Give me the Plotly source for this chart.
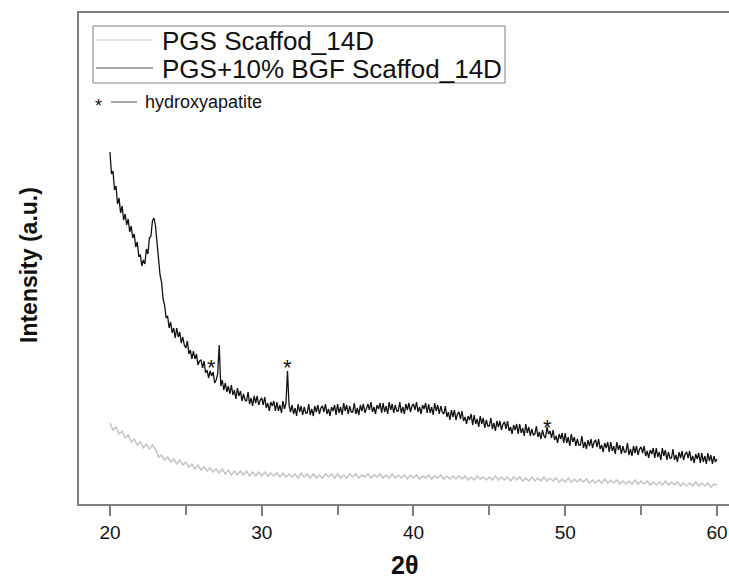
import numpy as np
import plotly.graph_objects as go

# 2-theta grids (degrees)
two_theta_bgf = np.round(np.arange(20.0, 60.0001, 0.1), 2)
two_theta_pgs = np.round(np.arange(20.0, 60.0001, 0.2), 2)

# PGS+10% BGF Scaffod_14D intensity (a.u.), one row per degree (0.1 deg steps)
intensity_bgf = [
    352, 330, 333, 314, 318, 300, 306, 291, 298, 284,   # 20
    290, 279, 285, 272, 278, 266, 270, 257, 262, 248,   # 21
    249, 238, 244, 240, 255, 250, 266, 268, 283, 286,   # 22
    278, 262, 250, 229, 222, 205, 199, 186, 188, 176,   # 23
    182, 171, 176, 166, 176, 167, 172, 161, 167, 159,   # 24
    156, 163, 150, 154, 145, 153, 145, 150, 139, 143,   # 25
    144, 136, 143, 131, 134, 126, 133, 128, 132, 121,   # 26
    124, 130, 159, 118, 124, 114, 121, 112, 118, 110,   # 27
    119, 109, 114, 105, 116, 108, 113, 103, 110, 104,   # 28
    103, 112, 100, 106, 98, 108, 101, 108, 99, 104,     # 29
    106, 99, 107, 96, 101, 93, 102, 98, 103, 93,        # 30
    102, 93, 99, 91, 103, 95, 101, 133, 99, 92,         # 31
    99, 90, 96, 88, 100, 92, 98, 89, 97, 91,            # 32
    91, 100, 89, 95, 88, 98, 92, 99, 90, 96,            # 33
    98, 92, 100, 90, 95, 88, 97, 93, 99, 89,            # 34
    100, 91, 97, 89, 101, 93, 99, 90, 98, 92,           # 35
    92, 101, 90, 96, 89, 99, 93, 100, 91, 97,           # 36
    100, 94, 102, 92, 97, 90, 99, 95, 101, 91,          # 37
    101, 92, 98, 90, 102, 94, 100, 91, 99, 93,          # 38
    93, 102, 91, 97, 90, 100, 94, 101, 92, 98,          # 39
    100, 94, 102, 92, 97, 90, 99, 95, 101, 91,          # 40
    100, 91, 97, 89, 101, 93, 99, 90, 98, 92,           # 41
    90, 98, 87, 92, 84, 94, 87, 94, 84, 90,             # 42
    92, 85, 93, 83, 87, 80, 88, 84, 90, 79,             # 43
    89, 80, 85, 77, 88, 80, 86, 76, 84, 78,             # 44
    78, 86, 75, 81, 73, 83, 77, 83, 74, 80,             # 45
    82, 75, 83, 73, 77, 70, 79, 74, 80, 70,             # 46
    80, 71, 76, 68, 80, 71, 77, 68, 75, 69,             # 47
    70, 78, 67, 72, 65, 74, 68, 66, 77, 70,             # 48
    73, 66, 74, 64, 68, 61, 70, 65, 71, 61,             # 49
    71, 61, 67, 58, 70, 62, 67, 58, 65, 59,             # 50
    59, 68, 56, 62, 55, 64, 58, 65, 56, 62,             # 51
    64, 57, 65, 55, 59, 52, 61, 56, 62, 52,             # 52
    62, 53, 58, 50, 62, 54, 59, 50, 58, 52,             # 53
    52, 61, 49, 55, 48, 58, 51, 58, 49, 55,             # 54
    57, 51, 58, 48, 53, 46, 54, 50, 56, 46,             # 55
    56, 47, 52, 44, 56, 48, 54, 44, 52, 46,             # 56
    46, 55, 44, 49, 42, 52, 46, 53, 44, 50,             # 57
    52, 46, 53, 43, 48, 41, 50, 45, 51, 41,             # 58
    51, 42, 48, 40, 51, 43, 49, 40, 48, 42,             # 59
    45,                                                 # 60
]

# PGS Scaffod_14D intensity (a.u.), 0.2 degree steps, one row per degree
intensity_pgs = [
    81, 74, 77, 70, 73,   66, 69, 62, 65, 59,   62, 56, 60, 55, 59,   # 20-22
    55, 47, 49, 44, 47,   42, 45, 40, 44, 39,   42, 37, 40, 35, 39,   # 23-25
    34, 37, 33, 36, 32,   35, 31, 35, 30, 34,   29, 33, 29, 33, 29,   # 26-28
    33, 28, 32, 28, 32,   28, 32, 28, 31, 28,   31, 27, 31, 27, 30,   # 29-31
    27, 30, 26, 31, 27,   30, 26, 30, 26, 29,   26, 30, 27, 30, 26,   # 32-34
    30, 26, 29, 26, 30,   27, 30, 26, 29, 27,   30, 26, 29, 27, 30,   # 35-37
    26, 29, 26, 30, 26,   29, 26, 29, 25, 29,   26, 29, 25, 28, 26,   # 38-40
    29, 25, 28, 26, 29,   25, 28, 25, 28, 25,   28, 25, 28, 24, 27,   # 41-43
    24, 28, 25, 27, 24,   27, 24, 28, 24, 27,   24, 27, 23, 27, 24,   # 44-46
    27, 23, 26, 23, 27,   23, 26, 23, 27, 23,   26, 23, 26, 22, 25,   # 47-49
    22, 26, 22, 25, 22,   25, 22, 25, 21, 24,   21, 24, 21, 25, 21,   # 50-52
    24, 21, 24, 20, 23,   20, 23, 20, 24, 20,   23, 20, 23, 19, 22,   # 53-55
    19, 22, 19, 23, 19,   22, 19, 22, 18, 21,   18, 21, 18, 22, 18,   # 56-58
    21, 18, 21, 17, 20,                                               # 59
    19,                                                               # 60
]

# hydroxyapatite peak markers (2theta, intensity)
hap_x = [26.7, 31.7, 48.8]
hap_y = [137, 137, 77]

series_names = ["PGS Scaffod_14D", "PGS+10% BGF Scaffod_14D"]
series_colors = ["#c4c4c4", "#111111"]
legend_sample_colors = ["#cfcfcf", "#555555"]
tick_vals = [20, 30, 40, 50, 60]

FONT = "Arial, Liberation Sans, sans-serif"
AX = "#808080"

# figure is slightly wider than the window so the plot's right edge falls off-page
FW, FH = 737, 579
L, T, B, R = 79, 13, 504, 737


def px(X):
    return (X - L) / (R - L)


def py(Y):
    return (B - Y) / (B - T)


fig = go.Figure()
fig.add_trace(go.Scatter(x=two_theta_pgs, y=intensity_pgs, mode="lines",
                         name=series_names[0], showlegend=False,
                         line=dict(color=series_colors[0], width=1.5)))
fig.add_trace(go.Scatter(x=two_theta_bgf, y=intensity_bgf, mode="lines",
                         name=series_names[1], showlegend=False,
                         line=dict(color=series_colors[1], width=1.3)))

for hx, hy in zip(hap_x, hap_y):
    fig.add_annotation(x=hx, y=hy, xref="x", yref="y", text="*",
                       xanchor="center", yanchor="middle",
                       showarrow=False, font=dict(family=FONT, size=22, color="#111"))

# legend box drawn in the figure
fig.add_shape(type="rect", xref="paper", yref="paper",
              x0=px(93), x1=px(505), y0=py(83), y1=py(26),
              line=dict(color=AX, width=1), fillcolor="white", layer="above")
for i, (nm, col) in enumerate(zip(series_names, legend_sample_colors)):
    yy = 40 + 28 * i
    fig.add_shape(type="line", xref="paper", yref="paper",
                  x0=px(96), x1=px(153), y0=py(yy), y1=py(yy),
                  line=dict(color=col, width=1.2))
    fig.add_annotation(x=px(160), y=py(yy + 1), xref="paper", yref="paper",
                       text=nm, xanchor="left", yanchor="middle", showarrow=False,
                       font=dict(family=FONT, size=26, color="#111"))

# hydroxyapatite key
fig.add_annotation(x=px(98), y=py(106), xref="paper", yref="paper", text="*",
                   xanchor="center", yanchor="middle",
                   showarrow=False, font=dict(family=FONT, size=18, color="#111"))
fig.add_shape(type="line", xref="paper", yref="paper",
              x0=px(111), x1=px(137), y0=py(102), y1=py(102),
              line=dict(color="#555", width=1))
fig.add_annotation(x=px(143), y=py(102), xref="paper", yref="paper",
                   text="hydroxyapatite", xanchor="left", yanchor="middle",
                   showarrow=False,
                   font=dict(family=FONT, size=18, color="#111"))

# axis titles
fig.add_annotation(x=px(404), y=py(565), xref="paper", yref="paper",
                   text="<b>2θ</b>", showarrow=False, xanchor="center", yanchor="middle",
                   font=dict(family=FONT, size=25, color="#111"))
fig.add_annotation(x=px(29), y=py(265), xref="paper", yref="paper",
                   text="<b>Intensity (a.u.)</b>", textangle=-90, showarrow=False,
                   xanchor="center", yanchor="middle",
                   font=dict(family=FONT, size=23, color="#111"))

fig.update_layout(
    width=FW, height=FH,
    margin=dict(l=L, r=FW - R, t=T, b=FH - B, autoexpand=False),
    paper_bgcolor="white", plot_bgcolor="white",
    showlegend=False,
)
fig.update_xaxes(range=[17.96, 61.32], showline=True, linecolor=AX, linewidth=1.5,
                 mirror=True, showgrid=False, zeroline=False,
                 ticks="outside", tickvals=tick_vals, ticklen=10, tickwidth=1.5,
                 tickcolor=AX,
                 minor=dict(ticks="outside", dtick=5, tick0=0, ticklen=9,
                            tickwidth=1.5, tickcolor=AX, showgrid=False),
                 tickfont=dict(family=FONT, size=19, color="#111"))
fig.update_yaxes(range=[0, 491], showline=True, linecolor=AX, linewidth=1.5,
                 mirror=False, showgrid=False, zeroline=False,
                 showticklabels=False, ticks="")

fig.write_html("out.html",
               config={"displayModeBar": False},
               post_script="document.body.style.margin='0';"
                           "document.body.style.overflow='hidden';")
